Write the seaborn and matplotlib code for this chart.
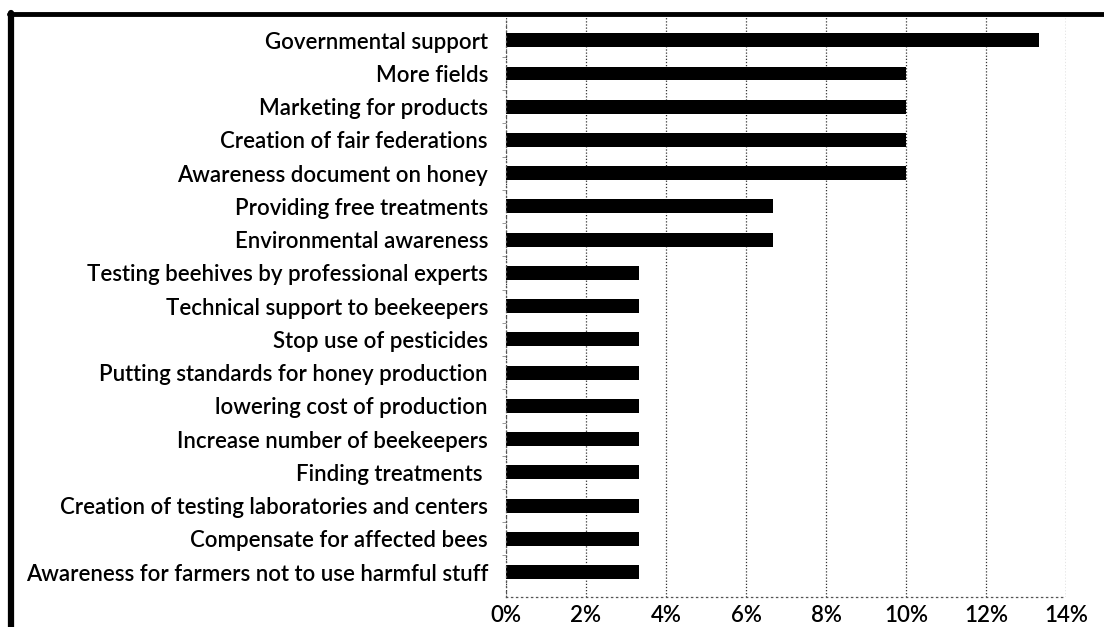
import matplotlib
matplotlib.use("Agg")
import matplotlib.pyplot as plt
from matplotlib.lines import Line2D
from matplotlib.ticker import PercentFormatter, FixedLocator
import seaborn as sns
import pandas as pd

categories = [
    "Governmental support",
    "More fields",
    "Marketing for products",
    "Creation of fair federations",
    "Awareness document on honey",
    "Providing free treatments",
    "Environmental awareness",
    "Testing beehives by professional experts",
    "Technical support to beekeepers",
    "Stop use of pesticides",
    "Putting standards for honey production",
    "lowering cost of production",
    "Increase number of beekeepers",
    "Finding treatments ",
    "Creation of testing laboratories and centers",
    "Compensate for affected bees",
    "Awareness for farmers not to use harmful stuff",
]
shares = [13.33, 10.0, 10.0, 10.0, 10.0, 6.67, 6.67,
          3.33, 3.33, 3.33, 3.33, 3.33, 3.33, 3.33, 3.33, 3.33, 3.33]
x_ticks = [0, 2, 4, 6, 8, 10, 12, 14]

df = pd.DataFrame({"category": categories, "share": shares})

sns.set_theme(style="white")
plt.rcParams["font.family"] = ["Lato", "DejaVu Sans"]
plt.rcParams["font.weight"] = "semibold"

fig = plt.figure(figsize=(11.04, 6.27), dpi=100)
ax = fig.add_axes([0.4583, 0.0478, 0.5073, 0.9251])

sns.barplot(data=df, x="share", y="category", orient="h", color="black",
            width=0.42, saturation=1, ax=ax, edgecolor="black", linewidth=0)

ax.set_xlim(0, 14)
ax.set_ylim(len(categories) - 0.25, -0.7)
ax.xaxis.set_major_locator(FixedLocator(x_ticks))
ax.xaxis.set_major_formatter(PercentFormatter(decimals=0))
ax.set_xlabel("")
ax.set_ylabel("")

ax.grid(axis="x", color="#333333", linestyle=(0, (1, 1.5)), linewidth=0.9)
ax.set_axisbelow(True)

for side in ["top", "right"]:
    ax.spines[side].set_visible(False)
for side in ["left", "bottom"]:
    ax.spines[side].set_color("#555555")
    ax.spines[side].set_linestyle((0, (1, 3)))
    ax.spines[side].set_linewidth(0.9)

ax.tick_params(axis="y", length=0, pad=13, labelsize=16, labelcolor="black")
ax.tick_params(axis="x", length=0, pad=6, labelsize=16, labelcolor="black")

# small boundary ticks between categories on the value axis
ax.set_yticks([i + 0.5 for i in range(len(categories) - 1)], minor=True)
ax.tick_params(axis="y", which="minor", length=3, width=0.7, color="#999999",
               left=True)

# heavy frame along the top and left edge of the figure
fig.add_artist(Line2D([0.0082, 1.0], [0.9777, 0.9777], color="black",
                      linewidth=3.5, transform=fig.transFigure))
fig.add_artist(Line2D([0.0100, 0.0100], [0.0, 0.980], color="black",
                      linewidth=4.5, transform=fig.transFigure))

fig.savefig("out.png", dpi=100)
